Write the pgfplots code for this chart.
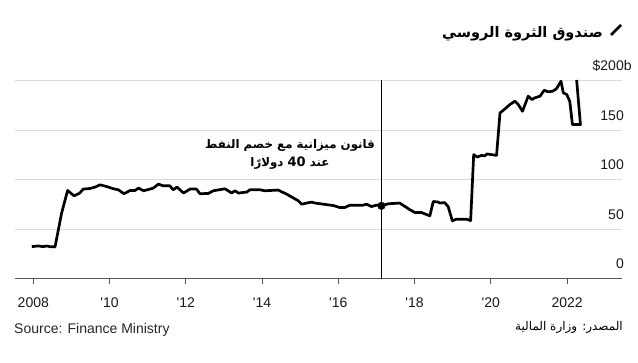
\documentclass[border=0pt]{standalone}
\usepackage{fontspec}
\setmainfont{Liberation Sans}[Ligatures=TeXOff]
\newfontfamily\arabicfont[Script=Arabic]{DejaVu Sans}
\usepackage{pgfplots}
\pgfplotsset{compat=1.18}
\TeXXeTstate=1
\definecolor{gridc}{HTML}{DCDCDC}
\definecolor{axisc}{HTML}{555555}

\begin{document}
\begin{tikzpicture}
\useasboundingbox (0,0) rectangle (638bp,363bp);
\begin{axis}[
  at={(15bp,84bp)}, anchor=south west,
  scale only axis, width=607bp, height=198.5bp,
  xmin=2007.52, xmax=2023.44, ymin=0, ymax=200,
  clip=false,
  axis x line*=bottom, axis y line*=right,
  y axis line style={draw=none},
  x axis line style={draw=axisc, line width=1bp},
  xtick={2008,2010,...,2022},
  xticklabels={2008,'10,'12,'14,'16,'18,'20,2022},
  ytick={0,50,100,150,200},
  yticklabels={0,50,100,150,\$200\rlap{b}},
  tick align=outside,
  major tick length=5bp,
  xtick style={draw=axisc, line width=1bp},
  ytick style={draw=none},
  ymajorgrids, grid style={draw=gridc, line width=1bp},
  tick label style={font=\fontsize{14bp}{16bp}\selectfont, text=black!90},
  xticklabel style={anchor=base, yshift=-24bp},
  yticklabel style={anchor=base east, inner sep=0pt, xshift=-3bp, yshift=10bp},
]
\addplot[black, line width=0.8bp] coordinates {(2017.13,0) (2017.13,200)};
\addplot[black, line width=2.7bp, line join=round] coordinates {
(2007.96,32.6) (2008.13,33.3) (2008.26,32.6) (2008.35,33.3) (2008.44,32.6)
(2008.57,32.3) (2008.74,66) (2008.90,89.2) (2009.07,83.8) (2009.22,86.6)
(2009.31,90.6) (2009.49,91.2) (2009.62,92.6) (2009.75,94.9) (2009.92,93.2)
(2010.10,90.9) (2010.23,89.9) (2010.38,85.9) (2010.54,89.2) (2010.67,89.2)
(2010.76,91.6) (2010.89,88.9) (2011.06,90.6) (2011.15,91.6) (2011.28,95.6)
(2011.41,93.9) (2011.58,93.9) (2011.67,89.9) (2011.77,92.6) (2011.94,86.6)
(2012.11,90.6) (2012.28,90.6) (2012.37,85.9) (2012.59,86.2) (2012.72,88.9)
(2013.03,90.9) (2013.20,86.6) (2013.29,88.9) (2013.38,86.6) (2013.60,87.6)
(2013.68,89.9) (2013.94,89.9) (2014.07,88.9) (2014.42,89.6) (2014.64,85.6)
(2014.95,78.8) (2015.04,75.4) (2015.17,76.5) (2015.30,77.5) (2015.39,76.5)
(2015.60,75.4) (2015.87,74) (2016.04,72) (2016.17,72) (2016.30,74.4)
(2016.48,74.4) (2016.65,74.4) (2016.74,75.4) (2016.87,73) (2017.00,74.4)
(2017.13,73.7) (2017.31,75.8) (2017.61,76.5) (2017.88,69.7) (2018.01,67)
(2018.18,67) (2018.40,63.6) (2018.49,78.1) (2018.62,77.5) (2018.66,76.5)
(2018.79,77) (2018.88,73) (2018.99,58.6) (2019.10,60.3) (2019.36,60.3)
(2019.47,58.9) (2019.55,125.3) (2019.64,122.9) (2019.76,124.6) (2019.84,124)
(2019.90,126) (2020.02,125.3) (2020.15,124.6) (2020.24,167.3) (2020.37,171.4)
(2020.50,175.8) (2020.63,179.1) (2020.72,175.8) (2020.83,169) (2020.98,184.2)
(2021.08,180.8) (2021.15,182.5) (2021.29,184.2) (2021.40,190.2) (2021.50,188.6)
(2021.62,189.2) (2021.72,191.6) (2021.84,199.3) (2021.90,187.6) (2021.99,185.9)
(2022.07,179.1) (2022.14,155.6) (2022.35,155.6) (2022.25,200.5)
};
\addplot[only marks, mark=*, mark size=3.8bp, black] coordinates {(2017.13,73.7)};
\end{axis}
% title
\node[anchor=base east, inner sep=0pt, font=\arabicfont\bfseries\fontsize{14.5bp}{18bp}\selectfont] at (603bp,325bp) {\beginR صندوق الثروة الروسي\endR};
\draw[black, line width=2.6bp] (611bp,328bp) -- (621bp,338bp);
% annotation
\node[anchor=base, inner sep=0pt, font=\arabicfont\bfseries\fontsize{11.8bp}{14bp}\selectfont] at (290bp,214bp) {\beginR قانون ميزانية مع خصم النفط\endR};
\node[anchor=base, inner sep=0pt, font=\arabicfont\bfseries\fontsize{11.8bp}{14bp}\selectfont] at (290bp,196bp) {\beginR عند \beginL{\fontsize{13bp}{14bp}\selectfont 40}\endL{} دولارًا\endR};
% sources
\node[anchor=base west, inner sep=0pt, font=\fontsize{14bp}{16bp}\selectfont, text=black!85] at (14bp,30bp) {Source: Finance Ministry};
\node[anchor=base east, inner sep=0pt, font=\arabicfont\fontsize{12bp}{14bp}\selectfont] at (623bp,33bp) {\beginR المصدر: وزارة المالية\endR};
\end{tikzpicture}
\end{document}
